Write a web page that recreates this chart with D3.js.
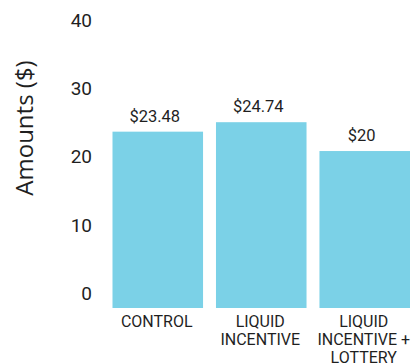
<!DOCTYPE html>
<html>
<head>
<meta charset="utf-8">
<script src="https://cdn.jsdelivr.net/npm/d3@7"></script>
<style>
  html, body { margin: 0; padding: 0; background: #fff; }
  svg { display: block; }
</style>
</head>
<body>
<div id="chart"></div>
<script>
const categories = ["CONTROL", "LIQUID INCENTIVE", "LIQUID INCENTIVE + LOTTERY"];
const categoryLines = [["CONTROL"], ["LIQUID", "INCENTIVE"], ["LIQUID", "INCENTIVE +", "LOTTERY"]];
const values = [23.48, 24.74, 20.9];
const valueLabels = ["$23.48", "$24.74", "$20"];
const yTicks = [0, 10, 20, 30, 40];
const yTitle = "Amounts ($)";

const W = 412, H = 364;
const svg = d3.select("#chart").append("svg").attr("width", W).attr("height", H);

const x = d3.scaleBand().domain(categories).range([112.5, 410]).paddingInner(0.125).paddingOuter(0);
const y = d3.scaleLinear().domain([0, 40]).range([308, 7.6]);
// tick labels sit on their own spacing in the reference
const yLab = d3.scaleLinear().domain([0, 40]).range([293, 19.5]);

const color = "#7bd1e7";
const textColor = "#1f1f1f";

svg.append("g").selectAll("rect").data(values).join("rect")
  .attr("x", (d, i) => x(categories[i]))
  .attr("width", x.bandwidth())
  .attr("y", d => y(d))
  .attr("height", d => y(0) - y(d))
  .attr("fill", color);

svg.append("g").selectAll("text").data(values).join("text")
  .attr("x", (d, i) => x(categories[i]) + x.bandwidth() / 2 - 3)
  .attr("y", d => y(d) - 10)
  .attr("text-anchor", "middle")
  .attr("font-family", "Roboto, sans-serif")
  .attr("font-size", 16.5)
  .attr("fill", textColor)
  .text((d, i) => valueLabels[i]);

const yAxis = svg.append("g")
  .attr("transform", "translate(92,0)")
  .call(d3.axisLeft(yLab).tickValues(yTicks).tickSize(0).tickPadding(0));
yAxis.select(".domain").remove();
yAxis.selectAll("text")
  .attr("font-family", "Roboto, sans-serif")
  .attr("font-size", 19)
  .attr("fill", textColor)
  .attr("dy", "0.35em");

const xg = svg.append("g");
categories.forEach((c, i) => {
  const t = xg.append("text")
    .attr("text-anchor", "middle")
    .attr("font-family", "Roboto, sans-serif")
    .attr("font-size", 16)
    .attr("fill", textColor);
  categoryLines[i].forEach((line, j) => {
    t.append("tspan")
      .attr("x", x(c) + x.bandwidth() / 2 - 1)
      .attr("y", 326.5 + j * 18)
      .text(line);
  });
});

svg.append("text")
  .attr("transform", "translate(33,128) rotate(-90)")
  .attr("text-anchor", "middle")
  .attr("font-family", "'Open Sans', sans-serif")
  .attr("font-size", 24)
  .attr("fill", textColor)
  .text(yTitle);
</script>
</body>
</html>
